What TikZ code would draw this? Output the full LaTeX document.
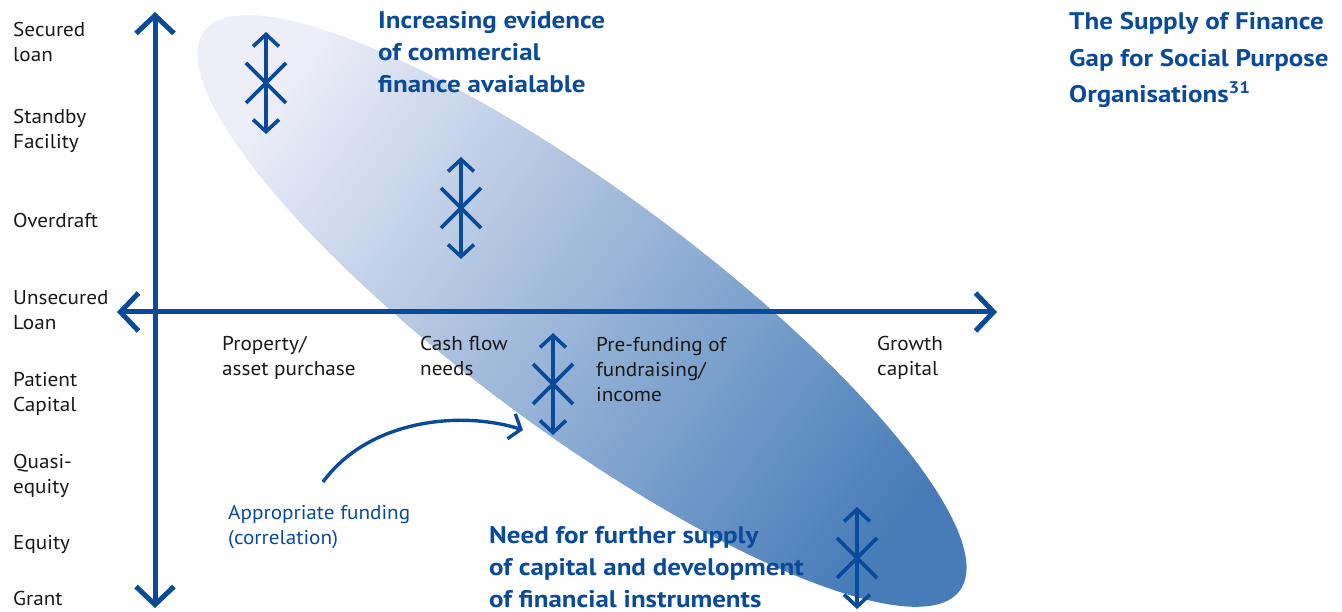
\documentclass[tikz,border=0pt]{standalone}
\usepackage{fontspec}
\setmainfont{PT Sans}[FakeStretch=1.06]
\newfontfamily\headfont{PT Sans}[FakeStretch=1.125]
\usetikzlibrary{arrows.meta}
\definecolor{dblue}{RGB}{10,74,154}
\definecolor{glight}{RGB}{237,238,248}
\definecolor{gdark}{RGB}{70,124,183}
\definecolor{txt}{RGB}{25,25,25}
\tikzset{
  lab/.style={anchor=base west, inner sep=0pt, align=left, font=\fontsize{20}{25}\selectfont, text=txt},
  bluelab/.style={lab, text=dblue},
  head/.style={anchor=base west, inner sep=0pt, align=left, font=\headfont\bfseries\fontsize{24}{32}\selectfont, text=dblue},
  title/.style={head, font=\headfont\bfseries\fontsize{24}{36.5}\selectfont},
  axisline/.style={draw=dblue, line width=5pt, {Straight Barb[length=18pt,width=38pt]}-{Straight Barb[length=18pt,width=38pt]}},
  mkline/.style={draw=dblue, line width=3.6pt},
  xmark/.pic={
    \draw[mkline, {Straight Barb[length=12pt,width=26pt]}-{Straight Barb[length=12pt,width=26pt]}] (0,-51) -- (0,51);
    \draw[mkline] (-20,-20) -- (20,20) (-20,20) -- (20,-20);
  },
  curvearrow/.style={draw=dblue, line width=3.4pt, -{Straight Barb[length=10pt,width=26pt]}}
}
\begin{document}
\begin{tikzpicture}[x=1pt,y=-1pt]
\useasboundingbox (0,0) rectangle (1342,612);
% gradient ellipse
\shade[top color=glight, bottom color=gdark, shading angle=53.5]
  [shift={(582,311)}, rotate=-36.5] (0,0) ellipse [x radius=470pt, y radius=120pt];
% axes
\coordinate (vtop) at (155,12);
\coordinate (vbot) at (155,608);
\coordinate (hleft) at (117,312);
\coordinate (hright) at (997,312);
\draw[axisline] (vbot) -- (vtop);
\draw[axisline] (hleft) -- (hright);
% markers
\coordinate (m1) at (266,83);
\coordinate (m2) at (461,208);
\coordinate (m3) at (553,384);
\coordinate (m4) at (857,558);
\pic at (m1) {xmark};
\pic at (m2) {xmark};
\pic at (m3) {xmark};
\pic at (m4) {xmark};
% left labels (anchored at the baseline of the last line)
\node[lab] (l1) at (13,62) {Secured\\loan};
\node[lab] (l2) at (13,149) {Standby\\Facility};
\node[lab] (l3) at (13,228) {Overdraft};
\node[lab] (l4) at (13,330) {Unsecured\\Loan};
\node[lab] (l5) at (13,411) {Patient\\Capital};
\node[lab] (l6) at (13,493) {Quasi-\\equity};
\node[lab] (l7) at (13,549) {Equity};
\node[lab] (l8) at (13,605) {Grant};
% bottom labels
\node[lab] (b1) at (222,376) {Property/\\asset purchase};
\node[lab] (b2) at (420,376) {Cash flow\\needs};
\node[lab] (b3) at (596,401) {Pre-funding of\\fundraising/\\income};
\node[lab] (b4) at (877,376) {Growth\\capital};
% headings
\node[head] (h1) at (378,93) {Increasing evidence\\of commercial\\finance avaialable};
\node[head] (h2) at (489,607) {Need for further supply\\of capital and development\\of financial instruments};
\node[title] (t) at (1069,103) {The Supply of Finance\\Gap for Social Purpose\\Organisations\textsuperscript{31}};
% appropriate funding
\node[bluelab] (af) at (228,544) {Appropriate funding\\(correlation)};
\coordinate (cs) at (323,482);
\coordinate (ce) at (523,430);
\draw[curvearrow] (cs) .. controls (368,420) and (460,410) .. (ce);
\end{tikzpicture}
\end{document}
